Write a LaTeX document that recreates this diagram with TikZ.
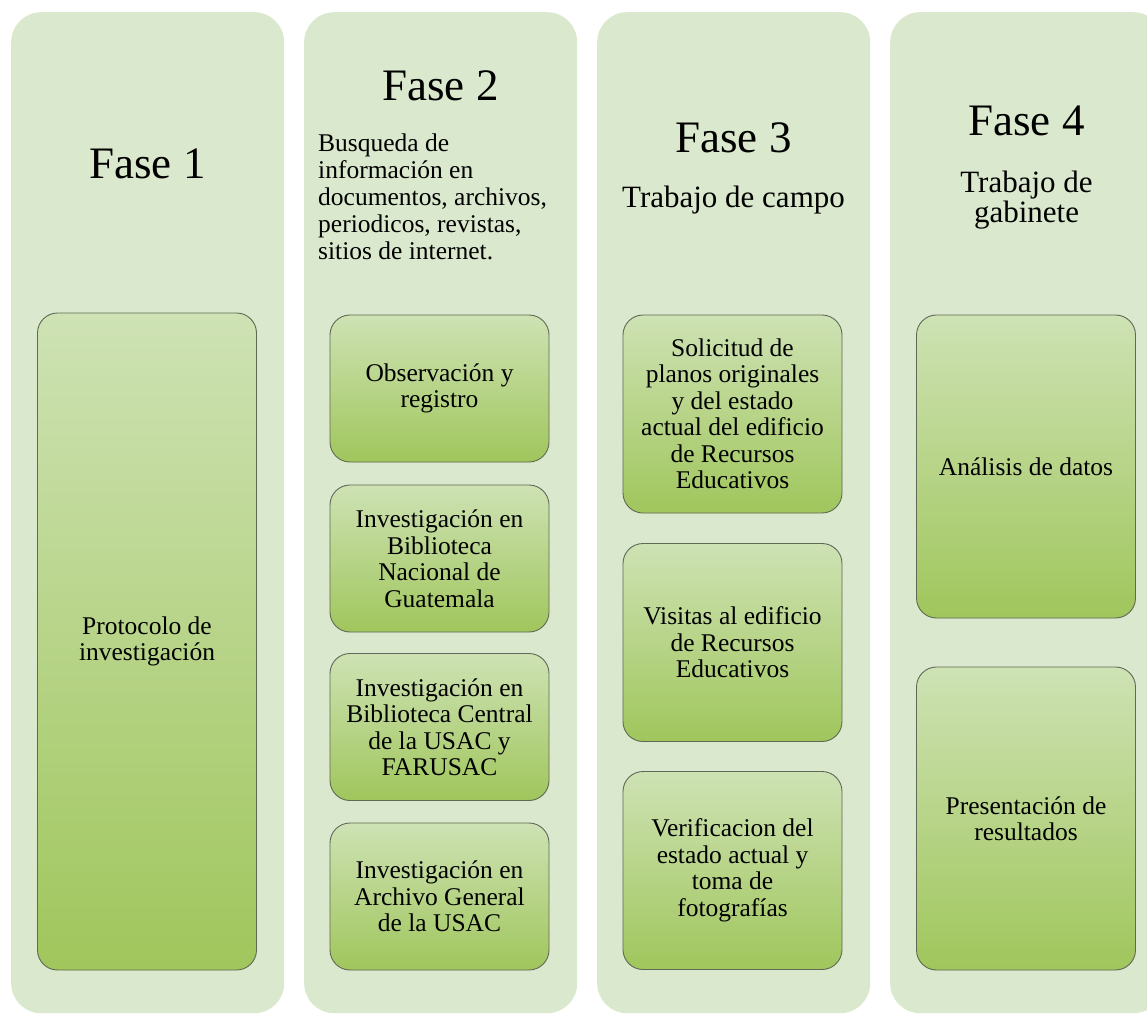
\documentclass[tikz,border=0pt]{standalone}
\usepackage{fontspec}
\setmainfont{Liberation Serif}
\definecolor{colbg}{RGB}{218,232,205}
\definecolor{boxtop}{RGB}{206,226,180}
\definecolor{boxbot}{RGB}{160,198,92}
\definecolor{boxline}{RGB}{95,105,85}
\begin{document}
\begin{tikzpicture}[x=1pt,y=-1pt,
  colbox/.style={fill=colbg,draw=none,rounded corners=30pt,minimum width=273pt,minimum height=1001pt,inner sep=0pt,anchor=north west},
  stagebox/.style={top color=boxtop,bottom color=boxbot,draw=boxline,line width=0.9pt,rounded corners=20pt,minimum width=219pt,inner sep=0pt,align=center,font=\fontsize{25.5}{26.5}\selectfont},
  fasetxt/.style={font=\fontsize{45}{50}\selectfont,anchor=base,inner sep=0pt},
  subtxt/.style={font=\fontsize{31}{31}\selectfont,anchor=base,inner sep=0pt,align=center},
]
\useasboundingbox (0,0) rectangle (1147,1015);
\clip (0,0) rectangle (1147,1015);
\fill[white] (0,0) rectangle (1147,1015);
% columns
\node[colbox] (c1) at (11,12) {};
\node[colbox] (c2) at (304,12) {};
\node[colbox] (c3) at (597,12) {};
\node[colbox] (c4) at (890,12) {};
% headers (multi-line nodes are placed by the baseline of their last line)
\node[fasetxt] (h1) at (147.5,178) {Fase 1};
\node[fasetxt] (h2) at (440.5,100) {Fase 2};
\node[fasetxt] (h3) at (733.5,152) {Fase 3};
\node[fasetxt] (h4) at (1026.5,135) {Fase 4};
\node[font=\fontsize{25.5}{27}\selectfont,anchor=base west,inner sep=0pt,align=left] (d2) at (318,259) {Busqueda de\\información en\\documentos, archivos,\\periodicos, revistas,\\sitios de internet.};
\node[subtxt] (s3) at (733.5,207) {Trabajo de campo};
\node[subtxt,font=\fontsize{31}{30}\selectfont] (s4) at (1026.5,222) {Trabajo de\\gabinete};
% column 1
\node[stagebox,minimum height=657pt] (b11) at (147,641.5) {Protocolo de\\investigación};
% column 2
\node[stagebox,minimum height=147pt] (b21) at (439.5,388.5) {Observación y\\registro};
\node[stagebox,minimum height=147pt] (b22) at (439.5,558.5) {Investigación en\\Biblioteca\\Nacional de\\Guatemala};
\node[stagebox,minimum height=147pt] (b23) at (439.5,727) {Investigación en\\Biblioteca Central\\de la USAC y\\FARUSAC};
\node[stagebox,minimum height=147pt] (b24) at (439.5,896.5) {Investigación en\\Archivo General\\de la USAC};
% column 3
\node[stagebox,minimum height=198pt] (b31) at (732.5,414) {Solicitud de\\planos originales\\y del estado\\actual del edificio\\de Recursos\\Educativos};
\node[stagebox,minimum height=198pt] (b32) at (732.5,642.5) {Visitas al edificio\\de Recursos\\Educativos};
\node[stagebox,minimum height=198pt] (b33) at (732.5,870.5) {Verificacion del\\estado actual y\\toma de\\fotografías};
% column 4
\node[stagebox,minimum height=303pt] (b41) at (1026,466.5) {Análisis de datos};
\node[stagebox,minimum height=303pt] (b42) at (1026,818.5) {Presentación de\\resultados};
\end{tikzpicture}
\end{document}
